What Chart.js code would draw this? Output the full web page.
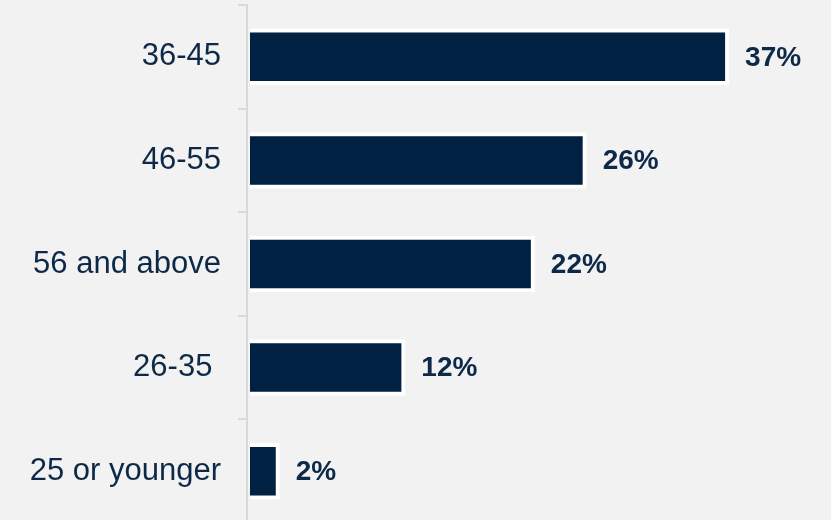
<!DOCTYPE html>
<html lang="en">
<head>
    <meta charset="UTF-8">
    <title>Age groups</title>
    <style>
        html, body {
            margin: 0;
            padding: 0;
            background-color: #f2f2f2;
            overflow: hidden;
        }

        #chart-container {
            position: relative;
            width: 831px;
            height: 523px;
        }
    </style>
</head>
<body>
    <div id="chart-container">
        <canvas id="age-chart"></canvas>
    </div>

    <script src="https://cdn.jsdelivr.net/npm/chart.js"></script>

    <script>
        const ageGroups = ["36-45", "46-55", "56 and above", "26-35 ", "25 or younger"];
        const shares = [37, 26, 22, 12, 2.3];

        const navy = '#002142';
        const textColor = '#0e2947';

        // draws the "37%" style labels to the right of each bar
        const valueLabels = {
            id: 'valueLabels',
            afterDatasetsDraw(chart) {
                const ctx = chart.ctx;
                const meta = chart.getDatasetMeta(0);
                ctx.save();
                ctx.font = 'bold 28px "Liberation Sans", Arial, sans-serif';
                ctx.fillStyle = textColor;
                ctx.textAlign = 'left';
                ctx.textBaseline = 'middle';
                meta.data.forEach((bar, i) => {
                    ctx.fillText(Math.round(shares[i]) + '%', bar.x + 16, bar.y + 1);
                });
                ctx.restore();
            }
        };

        const ctx = document.getElementById('age-chart').getContext('2d');
        new Chart(ctx, {
            type: 'bar',
            data: {
                labels: ageGroups,
                datasets: [{
                    data: shares,
                    backgroundColor: navy,
                    borderColor: '#ffffff',
                    borderWidth: 4,
                    borderSkipped: 'start',
                    barPercentage: 0.545,
                    categoryPercentage: 1
                }]
            },
            options: {
                indexAxis: 'y',
                responsive: true,
                maintainAspectRatio: false,
                animation: false,
                layout: {
                    padding: { top: 5, right: 0, bottom: 0, left: 0 }
                },
                plugins: {
                    legend: { display: false },
                    tooltip: { enabled: false }
                },
                scales: {
                    x: {
                        display: false,
                        min: -0.23,
                        max: 44.87
                    },
                    y: {
                        afterFit: (scale) => {
                            scale.width = 247;
                            scale.paddingTop = 0;
                            scale.paddingBottom = 0;
                        },
                        grid: {
                            drawOnChartArea: false,
                            color: '#d9d9d9',
                            lineWidth: 2,
                            tickLength: 9
                        },
                        border: {
                            color: '#d9d9d9',
                            width: 2
                        },
                        ticks: {
                            color: textColor,
                            padding: 17,
                            font: {
                                family: '"Liberation Sans", Arial, sans-serif',
                                size: 31
                            }
                        }
                    }
                }
            },
            plugins: [valueLabels]
        });
    </script>
</body>
</html>
